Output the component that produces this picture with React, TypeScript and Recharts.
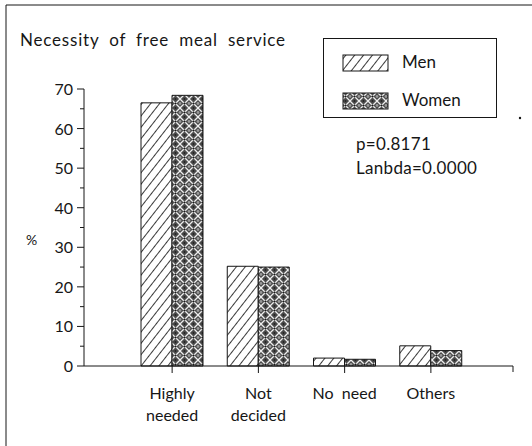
import { Bar, BarChart, Customized, Legend, XAxis, YAxis } from "recharts";

const categories = ["Highly needed", "Not decided", "No need", "Others"];
const categoryLines = [["Highly", "needed"], ["Not", "decided"], ["No  need"], ["Others"]];
const menValues = [66.5, 25.2, 2.0, 5.1];
const womenValues = [68.4, 25.0, 1.7, 3.9];
const yTicks = [0, 5, 10, 15, 20, 25, 30, 35, 40, 45, 50, 55, 60, 65, 70];
const statLines = ["p=0.8171", "Lanbda=0.0000"];

const data = categories.map((name, i) => ({
  name,
  men: menValues[i],
  women: womenValues[i],
}));

const FONT = "Lato, 'Open Sans', sans-serif";
const INK = "#161616";

function Patterns({ prefix }: { prefix: string }) {
  return (
    <defs>
      <pattern
        id={`${prefix}-hatch`}
        width={7}
        height={7}
        patternUnits="userSpaceOnUse"
        patternTransform="rotate(38)"
      >
        <rect width={7} height={7} fill="#fff" />
        <line x1={0} y1={0} x2={0} y2={7} stroke={INK} strokeWidth={1.7} />
      </pattern>
      <pattern id={`${prefix}-cross`} width={9} height={9} patternUnits="userSpaceOnUse">
        <rect width={9} height={9} fill="#4a4a4a" />
        <path d="M0,0 L9,9 M9,0 L0,9" stroke="#eee" strokeWidth={1.3} />
        <circle cx={4.5} cy={4.5} r={1.1} fill="#1a1a1a" />
        <circle cx={0} cy={4.5} r={1.4} fill="#999" />
        <circle cx={9} cy={4.5} r={1.4} fill="#999" />
        <circle cx={4.5} cy={0} r={0.9} fill="#222" />
        <circle cx={4.5} cy={9} r={0.9} fill="#222" />
      </pattern>
    </defs>
  );
}

function YTick(props: any) {
  const { x, y, payload } = props;
  const major = payload.value % 10 === 0;
  return (
    <g>
      <line x1={x - (major ? 7 : 4)} y1={y} x2={x} y2={y} stroke={INK} strokeWidth={1} />
      {major && (
        <text x={x - 11} y={y} dy={6} textAnchor="end" fontSize={16} fill={INK} fontFamily={FONT}>
          {payload.value}
        </text>
      )}
    </g>
  );
}

function CatTick(props: any) {
  const { x, y, payload, index } = props;
  const lines = categoryLines[index] ?? [payload.value];
  return (
    <text x={x} y={y + 18} textAnchor="middle" fontSize={16} fill={INK} fontFamily={FONT}>
      {lines.map((l, i) => (
        <tspan key={i} x={x} dy={i === 0 ? 6 : 22} style={{ whiteSpace: "pre" }}>
          {l}
        </tspan>
      ))}
    </text>
  );
}

function LegendBox() {
  const rows = [
    { label: "Men", fill: "lg-hatch", top: 17 },
    { label: "Women", fill: "lg-cross", top: 55 },
  ];
  return (
    <svg width={174} height={80} style={{ display: "block" }}>
      <Patterns prefix="lg" />
      <rect x={0.5} y={0.5} width={173} height={79} fill="#fff" stroke={INK} strokeWidth={1} />
      {rows.map((r) => (
        <g key={r.label}>
          <rect x={20} y={r.top} width={45} height={16} fill={`url(#${r.fill})`} stroke={INK} strokeWidth={1} />
          <text x={79} y={r.top + 13} fontSize={17} fill={INK} fontFamily={FONT}>
            {r.label}
          </text>
        </g>
      ))}
    </svg>
  );
}

function Annotations() {
  return (
    <g fontFamily={FONT} fill={INK}>
      <line x1={6} y1={5} x2={532} y2={5} stroke={INK} strokeWidth={1} />
      <line x1={6} y1={5} x2={6} y2={446} stroke={INK} strokeWidth={1} />
      <text x={20} y={46} fontSize={17} wordSpacing={5} letterSpacing={0.8}>
        Necessity of free meal service
      </text>
      <text x={26} y={245} fontSize={14}>
        %
      </text>
      {statLines.map((s, i) => (
        <text key={s} x={356} y={150 + i * 24} fontSize={17} letterSpacing={0.3}>
          {s}
        </text>
      ))}
      <circle cx={520} cy={118} r={1.2} fill={INK} />
      <line x1={513} y1={366} x2={513} y2={372} stroke={INK} strokeWidth={1} />
    </g>
  );
}

export default function App() {
  return (
    <div style={{ position: "absolute", left: 0, top: 0, width: 532, height: 446, background: "#fff" }}>
      <BarChart
        width={532}
        height={446}
        data={data}
        margin={{ top: 89, right: 19, bottom: 20, left: 24 }}
        barGap={0}
        barSize={31}
        style={{ fontFamily: FONT }}
      >
        <Patterns prefix="ch" />
        <XAxis
          dataKey="name"
          height={60}
          padding={{ left: 45, right: 39 }}
          interval={0}
          tick={<CatTick />}
          tickSize={7}
          tickLine={{ stroke: INK }}
          axisLine={{ stroke: INK }}
        />
        <YAxis
          width={60}
          domain={[0, 70]}
          ticks={yTicks}
          interval={0}
          tick={<YTick />}
          tickLine={false}
          tickSize={0}
          tickMargin={0}
          axisLine={{ stroke: INK }}
        />
        <Bar dataKey="men" fill="url(#ch-hatch)" stroke={INK} strokeWidth={1} isAnimationActive={false} />
        <Bar dataKey="women" fill="url(#ch-cross)" stroke={INK} strokeWidth={1} isAnimationActive={false} />
        <Legend
          layout="vertical"
          align="center"
          verticalAlign="middle"
          content={<LegendBox />}
          wrapperStyle={{ left: 323, top: 38, width: 174, height: 80 }}
        />
        <Customized component={Annotations} />
      </BarChart>
    </div>
  );
}
